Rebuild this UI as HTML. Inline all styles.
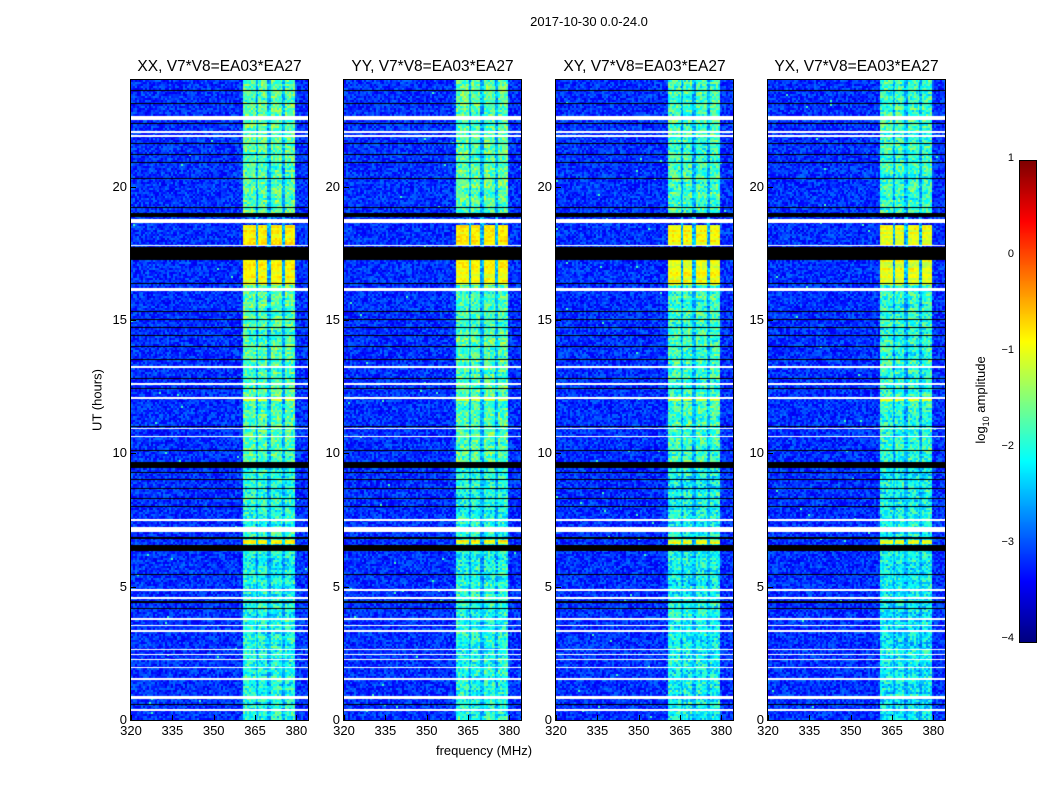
<!DOCTYPE html>
<html><head><meta charset="utf-8">
<style>
body{margin:0;background:#fff;font-family:"Liberation Sans",sans-serif;}
#wrap{position:relative;width:1050px;height:800px;overflow:hidden;}
.t{position:absolute;white-space:nowrap;color:#000;}
canvas{position:absolute;}
</style></head><body>
<div id="wrap">
<div class="t" style="left:489px;top:14px;font-size:13px;width:200px;text-align:center">2017-10-30 0.0-24.0</div>
<div class="t" style="left:97px;top:400px;font-size:13px;transform:translate(-50%,-50%) rotate(-90deg)">UT (hours)</div>
<div class="t" style="left:384px;top:743px;font-size:13px;width:200px;text-align:center">frequency (MHz)</div>
<div class="t" style="left:982px;top:400px;font-size:13px;transform:translate(-50%,-50%) rotate(-90deg)">log<sub style="font-size:9px">10</sub> amplitude</div>
<canvas id="cb" width="16" height="481" style="left:1019px;top:160px;border:1px solid #000;box-sizing:border-box"></canvas>
</div>
<script>
const panelTitles=["XX, V7*V8=EA03*EA27","YY, V7*V8=EA03*EA27","XY, V7*V8=EA03*EA27","YX, V7*V8=EA03*EA27"];
const panelLefts=[131,344,556,768];
const panelBandOffset=[0,0,-0.1,-0.15];
const xTicks=[320,335,350,365,380];
const yTicks=[0,5,10,15,20];
const cbTicks=[1,0,-1,-2,-3,-4];
const bandStart=[360.5,365.9,370.6,375.7];
const bandEnd=[365.2,369.5,374.6,379.6];
const segStart=[0,6.6,6.75,9.6,11.95,12.1,16.3,17.8,18.9];
const segEnd=[6.6,6.75,9.6,11.95,12.1,16.3,17.25,18.55,24];
const segLevel=[-2.0,-0.9,-1.95,-1.75,-1.0,-1.75,-0.85,-0.8,-1.7];
const bgLevel=-3.15;
const gapStart=[0.35,0.8,1.5,1.95,2.25,2.44,2.62,3.3,3.52,3.75,4.55,4.85,7.05,7.45,10.6,10.9,12.02,12.55,13.2,16.08,17.76,18.62,21.88,22.03,22.5];
const gapEnd=[0.42,0.9,1.56,2.0,2.3,2.49,2.67,3.36,3.58,3.82,4.62,4.92,7.22,7.52,10.65,10.95,12.12,12.62,13.26,16.2,17.8,18.78,21.94,22.09,22.65];
const flagStart=[0.55,4.15,4.4,5.45,6.35,6.78,8.0,8.3,8.65,9.0,9.25,9.45,10.1,11.0,12.4,12.8,13.5,14.0,14.4,14.7,15.0,15.3,16.35,17.25,18.88,19.2,20.3,20.9,21.2,21.6,22.35,23.1,23.6];
const flagEnd=[0.59,4.2,4.45,5.49,6.58,6.86,8.04,8.34,8.7,9.05,9.3,9.66,10.14,11.04,12.44,12.84,13.54,14.04,14.44,14.74,15.04,15.34,16.39,17.72,19.02,19.24,20.34,20.94,21.24,21.64,22.39,23.14,23.64];

const W=177,H=640,TOP=80,FMIN=320,FMAX=384.2,TMAX=24,VMIN=-4,VMAX=1;
const wrap=document.getElementById('wrap');
function xs(f){return (f-FMIN)/(FMAX-FMIN)*W;}
function ys(h){return H-h/TMAX*H;}
function clamp(v){return Math.max(0,Math.min(1,v));}
function jet(t){return [clamp(1.5-Math.abs(4*t-3)),clamp(1.5-Math.abs(4*t-2)),clamp(1.5-Math.abs(4*t-1))].map(v=>Math.round(v*255));}
function hash(a,b,c){let h=(a*374761393+b*668265263+c*2147483647)|0;h=(h^(h>>>13))*1274126177|0;return ((h^(h>>>16))>>>0)/4294967296;}
function inRanges(v,s,e){for(let i=0;i<s.length;i++)if(v>=s[i]&&v<e[i])return true;return false;}

panelTitles.forEach((title,p)=>{
  const L=panelLefts[p];
  const c=document.createElement('canvas');
  c.width=W;c.height=H;c.style.left=L+'px';c.style.top=TOP+'px';
  
  
  wrap.appendChild(c);
  const ctx=c.getContext('2d');
  const img=ctx.createImageData(W,H);
  for(let y=0;y<H;y++){
    const hr=(H-y-0.5)/H*TMAX;
    const row=Math.floor(y/2);
    let mode=0;
    if(inRanges(hr,gapStart,gapEnd))mode=1;else if(inRanges(hr,flagStart,flagEnd))mode=2;
    let lvl=bgLevel;
    for(let i=0;i<segStart.length;i++)if(hr>=segStart[i]&&hr<segEnd[i]){lvl=segLevel[i];}
    const rowVar=(hash(row,3,p)-0.5)*0.35;
    for(let x=0;x<W;x++){
      const k=(y*W+x)*4;
      if(mode===1){img.data[k]=img.data[k+1]=img.data[k+2]=255;img.data[k+3]=255;continue;}
      if(mode===2){img.data[k]=img.data[k+1]=img.data[k+2]=0;img.data[k+3]=255;continue;}
      const f=FMIN+(x+0.5)/W*(FMAX-FMIN);
      const col=Math.floor(x/2);
      let v=bgLevel,inBand=false;
      for(let b=0;b<bandStart.length;b++)if(f>=bandStart[b]&&f<bandEnd[b])inBand=true;
      if(inBand)v=lvl+panelBandOffset[p]+rowVar;
      else if(f>=bandStart[0]&&f<bandEnd[bandEnd.length-1])v=-2.5+rowVar;
      const n=hash(col,row,p)-0.5;
      v+=n*(inBand?(lvl>-1.2?0.35:1.0):0.7);
      if(!inBand&&hash(col,row,p+7)>0.998)v=-1.8;
      const rgb=jet(clamp((v-VMIN)/(VMAX-VMIN)));
      img.data[k]=rgb[0];img.data[k+1]=rgb[1];img.data[k+2]=rgb[2];img.data[k+3]=255;
    }
  }
  ctx.putImageData(img,0,0);
  const fr=document.createElement('div');
  fr.style.cssText=`position:absolute;left:${L-1}px;top:${TOP-1}px;width:${W}px;height:${H}px;border:1px solid #000`;
  
  
  wrap.appendChild(fr);
  const tt=document.createElement('div');
  tt.className='t';tt.textContent=title;
  tt.style.cssText=`left:${L-10}px;top:58px;width:${W+20}px;text-align:center;font-size:15.5px`;
  
  
  wrap.appendChild(tt);
  xTicks.forEach(v=>{
    const x=L+xs(v);
    const tk=document.createElement('div');
    tk.style.cssText=`position:absolute;left:${x}px;top:${TOP+H-5}px;width:1px;height:5px;background:#000`;
    
    
    wrap.appendChild(tk);
    const lb=document.createElement('div');
    lb.className='t';lb.textContent=v;
    lb.style.cssText=`left:${x-20}px;top:${TOP+H+3}px;width:40px;text-align:center;font-size:13px`;
    
    
    wrap.appendChild(lb);
  });
  yTicks.forEach(v=>{
    const y=TOP+ys(v);
    const tk=document.createElement('div');
    tk.style.cssText=`position:absolute;left:${L}px;top:${y}px;width:5px;height:1px;background:#000`;
    
    
    wrap.appendChild(tk);
    const lb=document.createElement('div');
    lb.className='t';lb.textContent=v;
    lb.style.cssText=`left:${L-44}px;top:${y-8}px;width:40px;text-align:right;font-size:13px`;
    
    
    wrap.appendChild(lb);
  });
});
const cb=document.getElementById('cb').getContext('2d');
for(let y=0;y<481;y++){const rgb=jet(1-y/480);cb.fillStyle=`rgb(${rgb})`;cb.fillRect(0,y,16,1);}
cbTicks.forEach(v=>{
  const y=160+(VMAX-v)/(VMAX-VMIN)*480;
  const lb=document.createElement('div');
  lb.className='t';lb.textContent=v<0?'\u2212'+(-v):v;
  lb.style.cssText=`left:990px;top:${y-8}px;width:24px;text-align:right;font-size:11px`;
  
  
  wrap.appendChild(lb);
});
</script>
</body></html>
